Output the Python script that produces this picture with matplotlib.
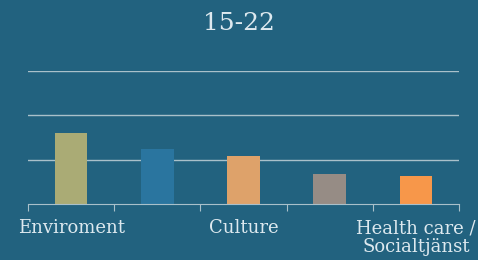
import matplotlib.pyplot as plt
import numpy as np

categories = ['Enviroment', 'Education', 'Culture', 'Sports', 'Health care /\nSocialtjänst']
values = [16.0, 12.4, 10.8, 6.8, 6.3]
colors = ['#aaab75', '#2a759f', '#dea26a', '#968c85', '#f7974a']
title = '15-22'

bg = '#22627f'
txt = '#dde9ef'
grid = '#a9c0ca'

fig = plt.figure(figsize=(4.78, 2.60), dpi=100, facecolor=bg)
ax = fig.add_axes([28/478, 1 - 204/260, 431/478, 133/260], facecolor=bg)

x = np.arange(len(categories))
ax.bar(x, values, width=0.38, color=colors, zorder=3)

ax.set_xlim(-0.5, len(categories) - 0.5)
ax.set_ylim(0, 30)
ax.set_yticks([10, 20, 30])
ax.yaxis.grid(True, color=grid, linewidth=1, zorder=1)
ax.tick_params(axis='y', left=False, labelleft=False)

# tick marks at category boundaries, labels at every other category
ax.set_xticks(np.arange(len(categories) + 1) - 0.5)
ax.tick_params(axis='x', which='major', length=5, color=grid, labelbottom=False)
ax.set_xticks(x, minor=True)
shown = [c if i % 2 == 0 else '' for i, c in enumerate(categories)]
ax.set_xticklabels(shown, minor=True, fontsize=13, color=txt, family='DejaVu Serif',
                   linespacing=1.08)
ax.tick_params(axis='x', which='minor', length=0, pad=11)

for s in ['top', 'right', 'left']:
    ax.spines[s].set_visible(False)
ax.spines['bottom'].set_color(grid)
ax.spines['bottom'].set_zorder(4)

fig.text(0.5, 1 - 24/260, title, ha='center', va='center', fontsize=18,
         color=txt, family='DejaVu Serif')

fig.savefig('out.png', dpi=100, facecolor=bg)
